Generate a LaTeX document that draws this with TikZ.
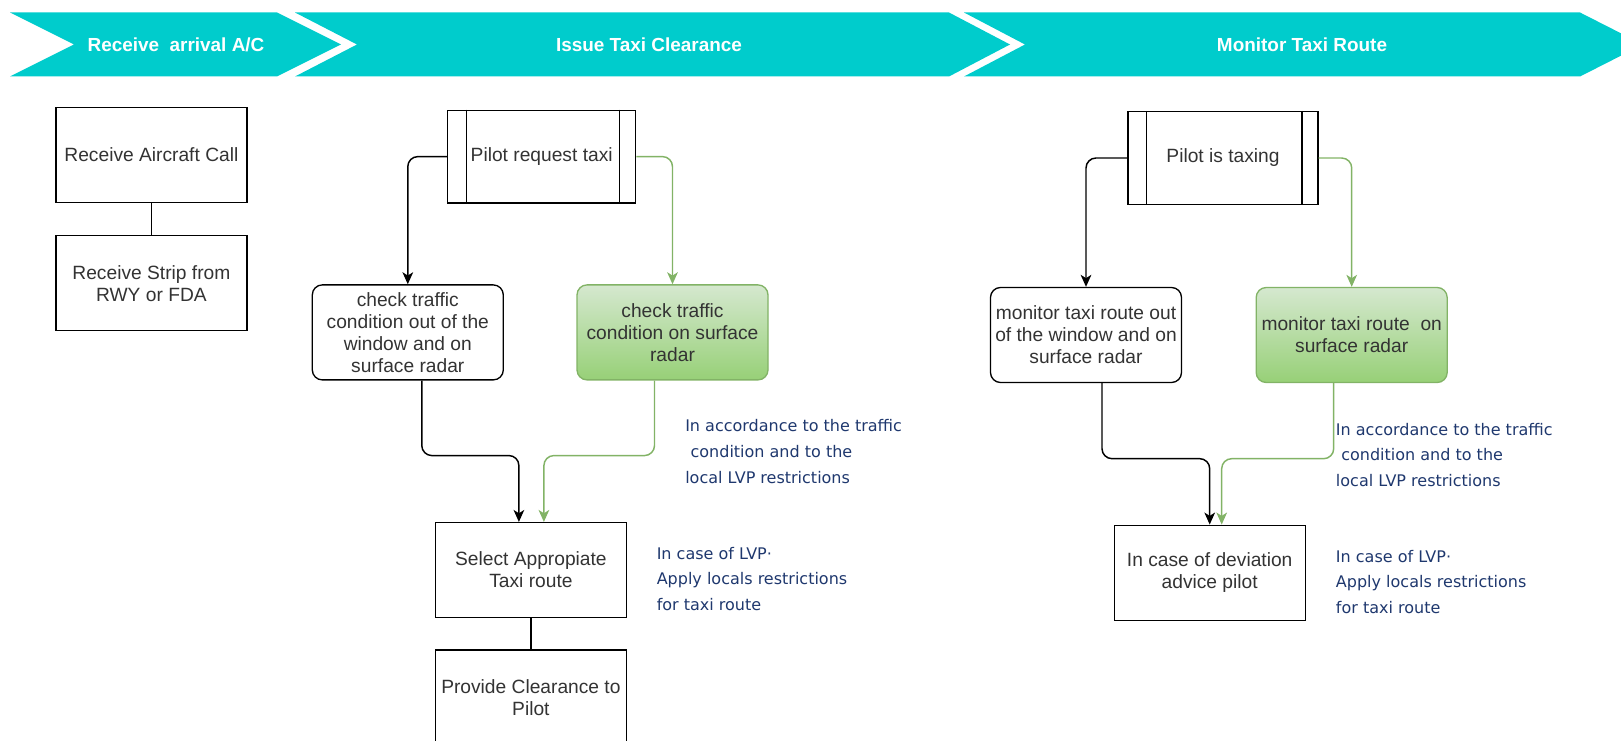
\documentclass[tikz,border=0pt]{standalone}
\usepackage{fontspec}
\setmainfont{Liberation Sans}
\newfontfamily\notefont{DejaVu Sans}
\usepackage{xcolor}
\usetikzlibrary{arrows.meta, positioning}
\definecolor{banner}{RGB}{0,204,204}
\definecolor{txt}{RGB}{51,51,51}
\definecolor{gline}{RGB}{130,179,102}
\definecolor{gtop}{RGB}{213,232,207}
\definecolor{gbot}{RGB}{151,208,119}
\definecolor{notec}{RGB}{31,56,110}

\begin{document}
\begin{tikzpicture}[
  x=0.75pt, y=-0.75pt,
  box/.style={draw, line width=1pt, align=center, minimum width=143.25pt, minimum height=71.25pt, inner sep=1pt, text=txt, font=\fontsize{14.4}{16.5}\selectfont},
  rbox/.style={box, rounded corners=7.5pt},
  gbox/.style={rbox, draw=gline, top color=gtop, bottom color=gbot},
  proc/.style={box, minimum width=141pt, minimum height=69.5pt},
  chev/.style={fill=banner},
  head/.style={text=white, font=\bfseries\fontsize{14.2}{16}\selectfont},
  note/.style={anchor=west, inner sep=0pt, align=left, text=notec, font=\notefont\fontsize{12}{19.4}\selectfont},
  arrow/.style={-{Stealth[length=9pt, width=8pt, inset=2.5pt]}, line width=1.1pt, rounded corners=7.5pt},
  garrow/.style={arrow, draw=gline}
]
\useasboundingbox (0,0) rectangle (1621,741);
\clip (0,0) rectangle (1621,741);

\fill[chev] (10,12.5) -- (277,12.5) -- (341,44.5) -- (277,76.5) -- (10,76.5) -- (74,44.5) -- cycle;
\fill[chev] (295,12.5) -- (949,12.5) -- (1010,44.5) -- (949,76.5) -- (295,76.5) -- (357,44.5) -- cycle;
\fill[chev] (964,12.5) -- (1580,12.5) -- (1643,44.5) -- (1580,76.5) -- (964,76.5) -- (1025,44.5) -- cycle;
\node[head] (h1) at (176,44.5) {Receive\ \ arrival A/C};
\node[head] (h2) at (649,44.5) {Issue Taxi Clearance};
\node[head] (h3) at (1302,44.5) {Monitor Taxi Route};

\node[box] (call) at (151.4,155) {Receive Aircraft Call};
\node[box, below=24pt of call] (strip) {Receive Strip from\\RWY or FDA};

\node[proc] (req) at (541.7,156.6) {Pilot request taxi};
\node[rbox] (chkwin) at (407.8,332.4) {check traffic\\condition out of the\\window and on\\surface radar};
\node[gbox] (chkrad) at (672.5,332.4) {check traffic\\condition on surface\\radar};
\node[box] (route) at (530.9,570.1) {Select Appropiate\\Taxi route};
\node[box, below=23.25pt of route] (clear) {Provide Clearance to\\Pilot};

\node[proc, minimum width=142.5pt] (taxing) at (1223,158) {Pilot is taxing};
\node[rbox] (monwin) at (1086,335) {monitor taxi route out\\of the window and on\\surface radar};
\node[gbox] (monrad) at (1351.7,335) {monitor taxi route\ \ on\\surface radar};
\node[box] (dev) at (1209.7,572.7) {In case of deviation\\advice pilot};

\node[note] (acc1) at (685,451.7) {In accordance to the traffic\\\hspace{4pt}condition and to the\\local LVP restrictions};
\node[note] (lvp1) at (656.5,579) {In case of LVP·\\Apply locals restrictions\\for taxi route};
\node[note] (acc2) at (1335.7,455) {In accordance to the traffic\\\hspace{4pt}condition and to the\\local LVP restrictions};
\node[note] (lvp2) at (1335.7,582) {In case of LVP·\\Apply locals restrictions\\for taxi route};

\foreach \p in {req, taxing}
  \draw[line width=1pt] ([xshift=14.5pt]\p.north west) -- ([xshift=14.5pt]\p.south west)
    ([xshift=-12.5pt]\p.north east) -- ([xshift=-12.5pt]\p.south east);

\draw[line width=1pt] (call) -- (strip);
\draw[line width=1pt] (route) -- (clear);

\draw[arrow] (req.west) -| (chkwin.north);
\draw[garrow] (req.east) -| (chkrad.north);
\draw[arrow] ([xshift=10.5pt]chkwin.south) -- ++(0,75) -| ([xshift=-9pt]route.north);
\draw[garrow] ([xshift=-13.5pt]chkrad.south) -- ++(0,75) -| ([xshift=9.75pt]route.north);
\draw[arrow] (taxing.west) -| (monwin.north);
\draw[garrow] (taxing.east) -| (monrad.north);
\draw[arrow] ([xshift=12pt]monwin.south) -- ++(0,75.5) -| (dev.north);
\draw[garrow] ([xshift=-13.5pt]monrad.south) -- ++(0,75.5) -| ([xshift=9pt]dev.north);
\end{tikzpicture}
\end{document}
